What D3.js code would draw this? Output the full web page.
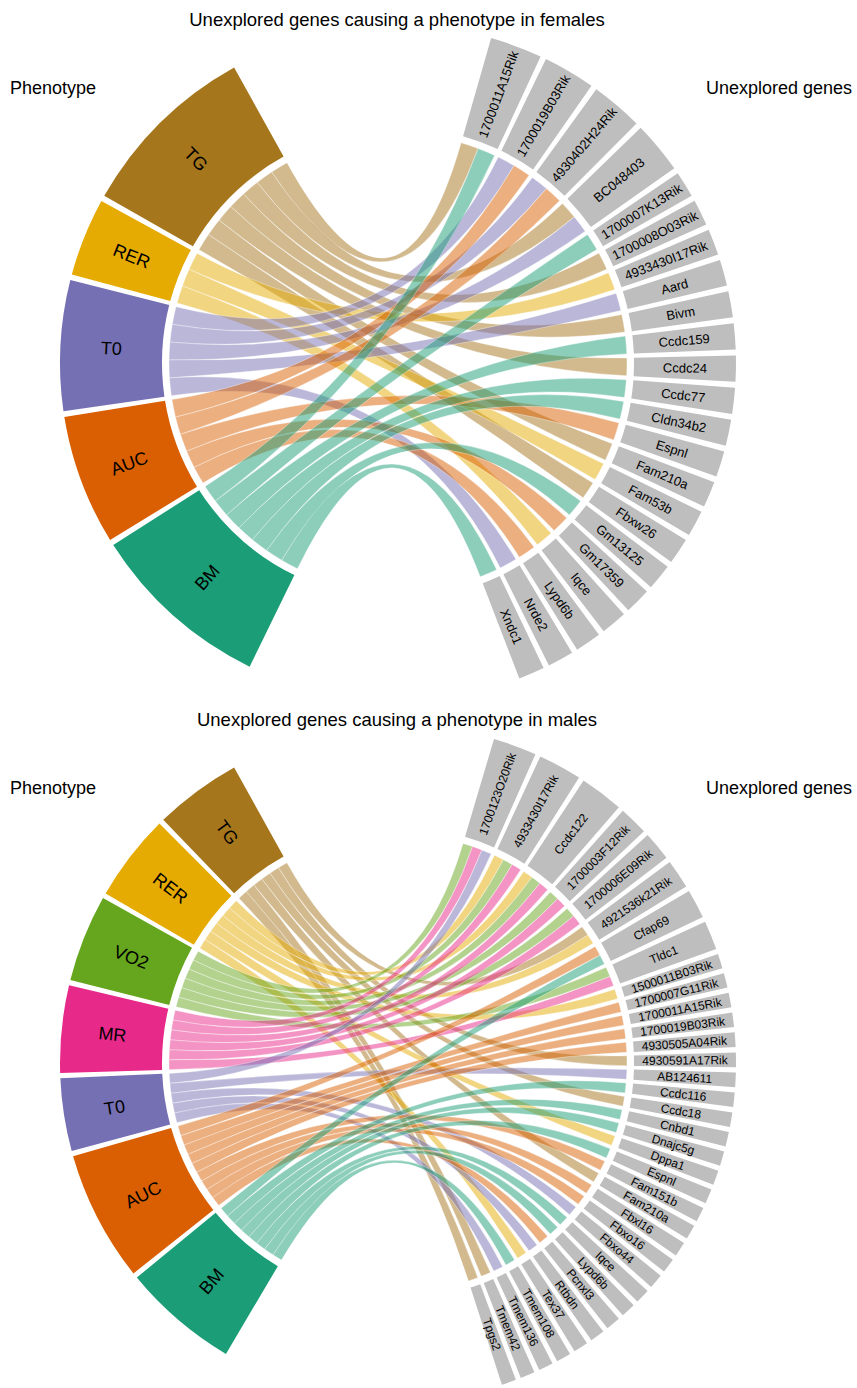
<!DOCTYPE html>
<html>
<head>
<meta charset="utf-8">
<script src="https://cdn.jsdelivr.net/npm/d3@7"></script>
<style>
  body { margin: 0; background: #fff; }
  text { font-family: "Liberation Sans", Arial, Helvetica, sans-serif; fill: #000; }
</style>
</head>
<body>
<svg id="chart" width="857" height="1388"></svg>
<script>
// ---- Females ----
const femaleTitle = "Unexplored genes causing a phenotype in females";
const femalePhenotypes = ["TG", "RER", "T0", "AUC", "BM"];
const femaleGenes = [
  "1700011A15Rik", "1700019B03Rik", "4930402H24Rik", "BC048403", "1700007K13Rik",
  "1700008O03Rik", "4933430I17Rik", "Aard", "Bivm", "Ccdc159", "Ccdc24", "Ccdc77",
  "Cldn34b2", "Espnl", "Fam210a", "Fam53b", "Fbxw26", "Gm13125", "Gm17359", "Iqce",
  "Lypd6b", "Nrde2", "Xndc1"
];
// phenotypes linked to each gene (same order as femaleGenes)
const femaleGeneLinks = [
  ["TG", "BM"], ["T0", "AUC"], ["T0", "AUC"], ["TG", "T0"], ["BM"],
  ["TG"], ["RER"], ["T0"], ["TG"], ["BM"], ["TG"], ["BM"],
  ["BM"], ["AUC"], ["TG"], ["RER"], ["TG"], ["BM"], ["AUC"], ["RER"],
  ["AUC"], ["T0"], ["BM"]
];

// ---- Males ----
const maleTitle = "Unexplored genes causing a phenotype in males";
const malePhenotypes = ["TG", "RER", "VO2", "MR", "T0", "AUC", "BM"];
const maleGenes = [
  "1700123O20Rik", "4933430I17Rik", "Ccdc122", "1700003F12Rik", "1700006E09Rik",
  "4921536k21Rik", "Cfap69", "Tldc1", "1500011B03Rik", "1700007G11Rik",
  "1700011A15Rik", "1700019B03Rik", "4930505A04Rik", "4930591A17Rik", "AB124611",
  "Ccdc116", "Ccdc18", "Cnbd1", "Dnajc5g", "Dppa1", "Espnl", "Fam151b", "Fam210a",
  "Fbxl16", "Fbxo16", "Fbxo44", "Iqce", "Lypd6b", "Pcnxl3", "Rtbdn", "Tex37",
  "Tmem108", "Tmem136", "Tmem42", "Tpgs2"
];
const maleGeneLinks = [
  ["VO2", "MR", "T0"], ["RER", "VO2", "MR"], ["RER", "VO2", "MR"], ["VO2", "MR"], ["VO2", "MR"],
  ["TG", "RER"], ["AUC", "BM"], ["VO2", "MR"], ["RER"], ["AUC"],
  ["AUC"], ["AUC"], ["AUC"], ["TG"], ["T0"],
  ["BM"], ["TG"], ["BM"], ["BM"], ["RER"], ["BM"], ["AUC"], ["TG"],
  ["AUC"], ["AUC"], ["T0"], ["BM"], ["BM"], ["AUC"], ["T0"], ["RER"],
  ["BM"], ["T0"], ["TG"], ["TG"]
];

const phenotypeColors = {
  TG: "#a6761d", RER: "#e6ab02", VO2: "#66a61e", MR: "#e7298a",
  T0: "#7570b3", AUC: "#d95f02", BM: "#1b9e77"
};
const geneFill = "#bebebe";

const svg = d3.select("#chart");
const rad = d => d * Math.PI / 180;
const deg = r => r * 180 / Math.PI;

function drawChord(opts) {
  const { title, phenotypes, genes, links, cx, cy, geneStart, phenoEnd, unit, gap, geneFont, titleY, headY } = opts;
  const rRibbon = 229, rIn = 236, rOut = 338, rLabel = 287;

  // gene side layout in link units
  let pos = 0;
  const geneSectors = genes.map((g, i) => {
    const ordered = links[i].slice().sort((a, b) => phenotypes.indexOf(a) - phenotypes.indexOf(b));
    const s = { name: g, index: i, start: pos, end: pos + ordered.length, traits: ordered };
    pos = s.end + gap;
    return s;
  });
  const geneTotal = pos - gap;
  const geneAngle = d3.scaleLinear().domain([0, geneTotal])
    .range([rad(geneStart), rad(geneStart) + rad(unit) * geneTotal]);

  // phenotype side layout, laid out from the top going down (decreasing angle)
  pos = 0;
  const phenoSectors = phenotypes.map(p => {
    const members = geneSectors.filter(g => g.traits.includes(p));
    const s = { name: p, start: pos, end: pos + members.length, members };
    pos = s.end + gap;
    return s;
  });
  const phenoTotal = pos - gap;
  const phenoAngle = d3.scaleLinear().domain([0, phenoTotal])
    .range([rad(phenoEnd), rad(phenoEnd) - rad(unit) * phenoTotal]);

  const g = svg.append("g").attr("transform", `translate(${cx},${cy})`);

  // ribbons
  const ribbon = d3.ribbon().radius(rRibbon);
  const chords = [];
  phenoSectors.forEach(ps => {
    ps.members.forEach((gs, k) => {
      const m = gs.traits.indexOf(ps.name);
      chords.push({
        pheno: ps.name,
        source: { startAngle: phenoAngle(ps.start + k + 1), endAngle: phenoAngle(ps.start + k) },
        target: { startAngle: geneAngle(gs.start + m), endAngle: geneAngle(gs.start + m + 1) }
      });
    });
  });
  g.append("g").selectAll("path").data(chords).join("path")
    .attr("d", ribbon)
    .attr("fill", d => phenotypeColors[d.pheno])
    .attr("fill-opacity", 0.5)
    .attr("stroke", "#fff")
    .attr("stroke-width", 0.5)
    .attr("stroke-opacity", 0.7);

  const arc = d3.arc().innerRadius(rIn).outerRadius(rOut);

  // phenotype sectors
  const pg = g.append("g").selectAll("g").data(phenoSectors).join("g");
  pg.append("path")
    .attr("d", d => arc({ startAngle: phenoAngle(d.end), endAngle: phenoAngle(d.start) }))
    .attr("fill", d => phenotypeColors[d.name]);
  pg.append("text")
    .attr("transform", d => {
      const a = phenoAngle((d.start + d.end) / 2);
      return `translate(${rLabel * Math.sin(a)},${-rLabel * Math.cos(a)}) rotate(${deg(a) - 270})`;
    })
    .attr("text-anchor", "middle")
    .attr("dy", "0.36em")
    .style("font-size", "18px")
    .text(d => d.name);

  // gene sectors
  const gg = g.append("g").selectAll("g").data(geneSectors).join("g");
  gg.append("path")
    .attr("d", d => arc({ startAngle: geneAngle(d.start), endAngle: geneAngle(d.end) }))
    .attr("fill", geneFill);
  gg.append("text")
    .attr("transform", d => {
      const a = geneAngle((d.start + d.end) / 2);
      return `translate(${rLabel * Math.sin(a)},${-rLabel * Math.cos(a)}) rotate(${deg(a) - 90})`;
    })
    .attr("text-anchor", "middle")
    .attr("dy", "0.36em")
    .style("font-size", geneFont + "px")
    .text(d => d.name);

  // headings
  svg.append("text").attr("x", 397).attr("y", titleY)
    .attr("text-anchor", "middle").style("font-size", "18.5px").text(title);
  svg.append("text").attr("x", 10).attr("y", headY)
    .style("font-size", "18px").text("Phenotype");
  svg.append("text").attr("x", 852).attr("y", headY)
    .attr("text-anchor", "end").style("font-size", "18px").text("Unexplored genes");
}

drawChord({
  title: femaleTitle, phenotypes: femalePhenotypes, genes: femaleGenes, links: femaleGeneLinks,
  cx: 398, cy: 363, geneStart: 16, phenoEnd: 331, unit: 4.48, gap: 1.0 / 4.48,
  geneFont: 13, titleY: 26, headY: 94
});

drawChord({
  title: maleTitle, phenotypes: malePhenotypes, genes: maleGenes, links: maleGeneLinks,
  cx: 398, cy: 1063, geneStart: 16.5, phenoEnd: 331, unit: 2.5, gap: 0.9 / 2.5,
  geneFont: 12, titleY: 726, headY: 794
});
</script>
</body>
</html>
